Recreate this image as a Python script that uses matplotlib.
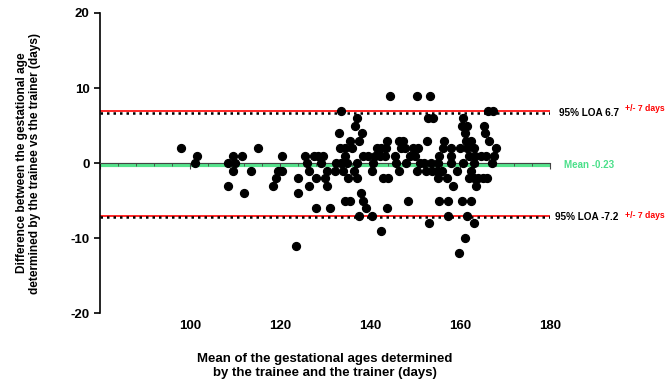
import numpy as np
from matplotlib import pyplot as plt
from matplotlib.ticker import MultipleLocator

# Bland-Altman style plot: difference vs mean of trainee/trainer gestational age
plt.rcParams['font.family'] = ['Liberation Sans', 'DejaVu Sans']
plt.rcParams['font.weight'] = 'bold'
plt.rcParams['axes.unicode_minus'] = False

# points, grouped by difference (days) -> list of means
rows = {
    9: [144.4, 150.4, 153.3],
    7: [133.5, 166.3, 167.4],
    6: [137, 152.8, 153.9, 160.7],
    5: [136.7, 160.5, 161.5, 165.3],
    4: [133, 138.2, 161.1, 165.6],
    3: [135.5, 137.5, 143.7, 146.5, 147.4, 152.6, 156.4, 161.3, 162.4, 166.4],
    2: [98, 115, 133.3, 134.4, 136, 141.5, 142.5, 143.5, 146.8, 147.8, 149.6,
        150.6, 156.3, 158.1, 160, 161.5, 163, 167.9],
    1: [101.5, 109.5, 111.5, 120.5, 125.5, 127.5, 128.5, 129.5, 134.5, 138.5,
        139.6, 141.1, 142.2, 143.3, 145.5, 148.9, 150, 155.3, 157.9, 161.9,
        163.3, 164.6, 165.8, 167.6],
    0: [101, 108.5, 110, 126, 129, 132.5, 133.5, 134.8, 137, 140.7, 145.8,
        148.1, 151.1, 152.1, 153.5, 155, 157.9, 160.6, 163, 167],
    -1: [109.5, 113.5, 119.5, 120.5, 126.5, 130.5, 132.3, 133.9, 136.5, 140.5,
         146.4, 150.4, 152.5, 153.7, 154.8, 156, 159.3, 162.4],
    -2: [119, 124, 128, 130, 135, 137, 142.8, 144, 155, 157, 161.9, 163, 164.1,
         165.2, 166],
    -3: [108.5, 118.5, 126.5, 130.5, 158.5, 163.5],
    -4: [112, 124, 138],
    -5: [134.5, 135.5, 138.5, 148.5, 155.4, 157.4, 160.4, 162.4],
    -6: [128, 131, 139, 143.7],
    -7: [137.5, 140.5, 157.4, 161.5],
    -8: [153, 163],
    -9: [142.5],
    -10: [161],
    -11: [123.5],
    -12: [159.8],
}
x_mean = np.array([m for d in rows for m in rows[d]])
y_diff = np.array([d for d in rows for m in rows[d]])

bias = -0.23
loa_upper = 6.7
loa_lower = -7.2
limit = 7

fig = plt.figure(figsize=(6.67, 3.89), dpi=100)
ax = fig.add_axes([0.15, 0.195, 0.6746, 0.7716])
ax.set_xlim(80, 180)
ax.set_ylim(-20, 20)

# reference lines
ax.axhline(bias, color='#55e38c', lw=3, zorder=1)
ax.axhline(limit, color='red', lw=1.2, zorder=2)
ax.axhline(-limit, color='red', lw=1.2, zorder=2)
ax.axhline(loa_upper, color='black', lw=1.8, ls=(0, (1, 1.6)), zorder=2)
ax.axhline(loa_lower, color='black', lw=1.8, ls=(0, (1, 1.6)), zorder=2)

ax.scatter(x_mean, y_diff, s=32, color='black', zorder=4, clip_on=False)

# axes in Prism style: x axis crosses at 0, labels at the bottom
ax.spines['top'].set_visible(False)
ax.spines['right'].set_visible(False)
ax.spines['bottom'].set_position(('data', 0))
ax.spines['bottom'].set_color('#444444')
ax.spines['bottom'].set_zorder(3)
ax.spines['left'].set_linewidth(1.2)
ax.xaxis.set_major_locator(MultipleLocator(20))
ax.xaxis.set_minor_locator(MultipleLocator(4))
ax.yaxis.set_major_locator(MultipleLocator(10))
ax.tick_params(axis='x', which='major', length=4, color='#444444', labelbottom=False)
ax.tick_params(axis='x', which='minor', length=2.5, color='#444444')
ax.tick_params(axis='y', length=4, width=1.2, labelsize=9.5)

sec = ax.secondary_xaxis('bottom')
sec.set_xticks([100, 120, 140, 160, 180])
sec.spines['bottom'].set_visible(False)
sec.tick_params(length=0, labelsize=9.5, pad=5)

ax.set_ylabel('Difference between the gestational age\ndetermined by the trainee vs the trainer (days)',
              fontsize=8.6, fontweight='bold', labelpad=21)
sec.set_xlabel('Mean of the gestational ages determined\nby the trainee and the trainer (days)',
               fontsize=9.5, fontweight='bold', labelpad=15)

# annotations on the right
ax.text(195.3, loa_upper, f'95% LOA {loa_upper:.1f}', fontsize=7.2, fontweight='bold',
        ha='right', va='center', clip_on=False)
ax.text(196.7, limit + 0.3, f'+/- {limit} days', fontsize=6.2, fontweight='bold', color='red',
        va='center', clip_on=False)
ax.text(183, bias, f'Mean {bias:.2f}', fontsize=7, fontweight='bold', color='#4be08a',
        va='center', clip_on=False)
ax.text(195.3, loa_lower, f'95% LOA {loa_lower:.1f}', fontsize=7.2, fontweight='bold',
        ha='right', va='center', clip_on=False)
ax.text(196.7, -limit, f'+/- {limit} days', fontsize=6.2, fontweight='bold', color='red',
        va='center', clip_on=False)

plt.savefig('out.png', dpi=100)
